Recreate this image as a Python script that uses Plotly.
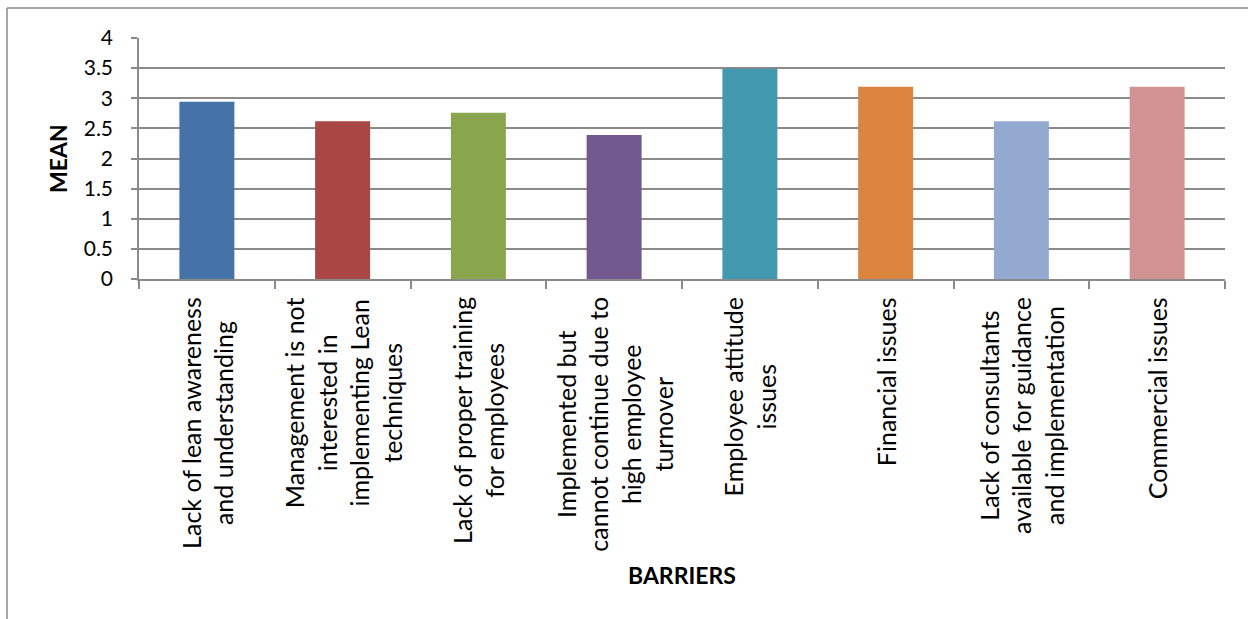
import plotly.graph_objects as go

categories = [
    "Lack of lean awareness<br>and understanding",
    "Management is not<br>interested in<br>implementing Lean<br>techniques",
    "Lack of proper training<br>for employees",
    "Implemented but<br>cannot continue due to<br>high employee<br>turnover",
    "Employee attitude<br>issues",
    "Financial issues",
    "Lack of consultants<br>available for guidance<br>and implementation",
    "Commercial issues",
]
means = [2.94, 2.62, 2.76, 2.39, 3.49, 3.19, 2.62, 3.19]
colors = ["#4572A7", "#AA4643", "#89A54E", "#71588F", "#4198AF", "#DB843D", "#93A9CF", "#D19392"]
y_ticks = [0, 0.5, 1, 1.5, 2, 2.5, 3, 3.5, 4]
y_ticktext = ["0", "0.5", "1", "1.5", "2", "2.5", "3", "3.5", "4"]

FONT = "Lato"
W, H = 1248, 619
ml, mr, mt, mb = 139, 23, 38, 340

x_idx = list(range(len(categories)))

fig = go.Figure()
fig.add_trace(go.Bar(x=x_idx, y=means, marker=dict(color=colors, line=dict(width=0)),
                     showlegend=False, hoverinfo="skip"))

annotations = []
for i, c in enumerate(categories):
    annotations.append(dict(x=i, y=0, xref="x", yref="paper", text=c, textangle=-90,
                            showarrow=False, xanchor="center", yanchor="top", yshift=-16,
                            align="center", font=dict(family=FONT, size=25, color="#000000")))

annotations.append(dict(x=0.5, y=-(575 - (H - mb)) / (H - mt - mb), xref="paper", yref="paper",
                        text="<b>BARRIERS</b>", showarrow=False, xanchor="center", yanchor="middle",
                        font=dict(family=FONT, size=23, color="#000000")))
annotations.append(dict(x=(58 - ml) / (W - ml - mr), y=((H - mb) - 159) / (H - mt - mb),
                        xref="paper", yref="paper", text="<b>MEAN</b>", textangle=-90,
                        showarrow=False, xanchor="center", yanchor="middle",
                        font=dict(family=FONT, size=23, color="#000000")))

pw = W - ml - mr
ph = H - mt - mb
shapes = [
    dict(type="line", xref="paper", yref="paper", x0=(7 - ml) / pw, x1=(7 - ml) / pw,
         y0=((H - mb) - 8) / ph, y1=-(H + 10 - (H - mb)) / ph,
         line=dict(color="#8a8a8a", width=1.5)),
    dict(type="line", xref="paper", yref="paper", x0=(7 - ml) / pw, x1=(W + 10 - ml) / pw,
         y0=((H - mb) - 8) / ph, y1=((H - mb) - 8) / ph,
         line=dict(color="#8a8a8a", width=1.5)),
]

fig.update_layout(
    width=W, height=H,
    margin=dict(l=ml, r=mr, t=mt, b=mb, pad=0),
    paper_bgcolor="white", plot_bgcolor="white",
    bargap=0.595,
    font=dict(family=FONT, size=19, color="#000000"),
    annotations=annotations,
    shapes=shapes,
    xaxis=dict(range=[-0.5, len(categories) - 0.5], tickmode="array",
               tickvals=[i - 0.5 for i in range(len(categories) + 1)], ticktext=[""] * (len(categories) + 1),
               showticklabels=False, ticks="outside", ticklen=8, tickwidth=1.5, tickcolor="#8a8a8a",
               showline=True, linecolor="#8a8a8a", linewidth=1.5, showgrid=False, zeroline=False,
               fixedrange=True),
    yaxis=dict(range=[0, 4], tickmode="array", tickvals=y_ticks, ticktext=y_ticktext,
               ticks="outside", ticklen=6, tickwidth=1.5, tickcolor="#8a8a8a",
               showline=True, linecolor="#8a8a8a", linewidth=1.5,
               showgrid=True, gridcolor="#8a8a8a", gridwidth=1.5, zeroline=False,
               tickfont=dict(family=FONT, size=21, color="#000000"), ticklabelstandoff=14,
               fixedrange=True),
)

fig.write_html("out.html", config={"displayModeBar": False},
               post_script="document.body.style.margin='0';document.body.style.overflow='hidden';")
